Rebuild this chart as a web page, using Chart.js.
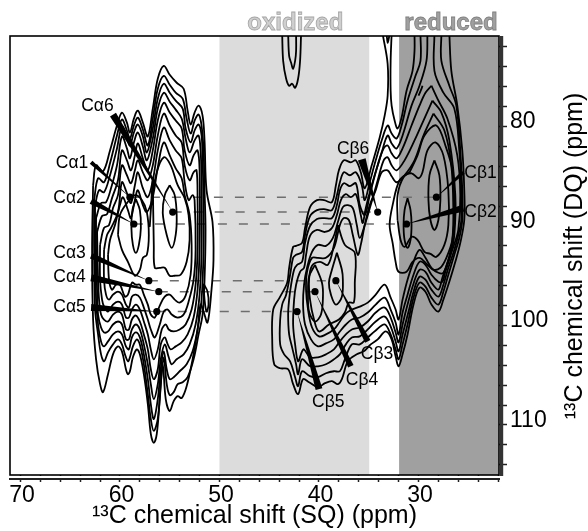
<!DOCTYPE html>
<html>
<head>
<meta charset="utf-8">
<script src="https://cdn.jsdelivr.net/npm/chart.js@4"></script>
<style>
 html,body{margin:0;padding:0;background:#fff;}
 canvas{display:block;}
</style>
</head>
<body>
<canvas id="nmr" width="588" height="531"></canvas>
<script>
// ---------------- AXES ----------------
const xRange = [71.05, 21.91];
const yRange = [70.9, 115.03];
const xTickValues = [70,68,66,64,62,60,58,56,54,52,50,48,46,44,42,40,38,36,34,32,30,28,26,24,22];
const yTickValues = [72,74,76,78,80,82,84,86,88,90,92,94,96,98,100,102,104,106,108,110,112,114];
const xTickLabels = [70,60,50,40,30];
const yTickLabels = [80,90,100,110];

// ---------------- SHADED BANDS ----------------
const oxidizedBand = [50, 34.95];
const reducedBand = [31.95, 21.91];

// ---------------- PEAKS (SQ Ca, SQ Cb, DQ) ----------------
const peakCaX = [59.0, 58.6, 57.1, 56.1, 56.3, 54.7];
const peakCbX = [28.2, 31.2, 38.3, 40.4, 42.2, 34.1];
const peakY = [87.1, 89.8, 95.5, 96.6, 98.6, 88.6];

const caNames = ["Cα1","Cα2","Cα3","Cα4","Cα5","Cα6"];
const caLabelX = [66.45, 66.7, 66.7, 66.7, 66.7, 63.9];
const caLabelY = [84.2, 87.7, 93.2, 95.6, 98.6, 78.4];
const caLeaderX = [62.9, 62.9, 62.9, 62.9, 62.9, 60.7];
const caLeaderY = [83.6, 87.5, 93.0, 95.2, 98.2, 78.8];

const cbNames = ["Cβ1","Cβ2","Cβ3","Cβ4","Cβ5","Cβ6"];
const cbLabelX = [25.4, 25.4, 35.8, 37.3, 40.7, 38.2];
const cbLabelY = [85.2, 89.1, 103.4, 106.0, 108.2, 82.8];
const cbLeaderX = [25.5, 25.5, 35.1, 36.8, 40.0, 35.7];
const cbLeaderY = [84.6, 88.2, 101.6, 104.1, 106.4, 83.3];

// ---------------- CA CONTOURS ----------------
const caContour1 = [[62.7,85.9],[62.4,83.9],[61.7,84.5],[61,82.4],[60.3,79.9],[59.8,78.6],[59.3,79.6],[59,80.6],[58.6,79.2],[58.2,78.4],[57.7,79.6],[57.2,81],[56.7,78.2],[56.2,75.2],[55.6,73.9],[55,74.8],[54.3,75.6],[53.6,76.2],[53.2,78.4],[52.9,79.8],[52.5,78.6],[52.1,77.9],[51.7,78.9],[51.5,81.4],[51.3,86.4],[50.7,89.6],[50.6,93.4],[50.8,96.4],[51.2,99.7],[51.6,98.6],[51.9,97.9],[52.2,100.4],[52.7,103.4],[53.3,106.1],[53.8,107.3],[54.2,107.1],[54.6,107.6],[55,108.6],[55.4,107.4],[55.7,103.9],[56,107.4],[56.3,110.9],[56.6,111.8],[56.9,110.9],[57.2,107.9],[57.6,104.9],[58,102.9],[58.3,102.4],[58.7,103.2],[59,104.6],[59.2,104.9],[59.4,104.4],[59.8,102.6],[60.2,102.1],[60.7,102.9],[61.2,104.9],[61.7,106.7],[62,105.9],[62.4,103.4],[62.7,99.4],[62.8,92.4],[62.7,85.9]];
const caContour2 = [[62.6,87.4],[62.2,85.2],[61.6,85.6],[61,83.7],[60.3,80.9],[59.8,79.3],[59.3,80.4],[59,81.2],[58.6,79.9],[58.2,79.1],[57.7,80.3],[57.2,81.9],[56.7,79.2],[56.2,76.2],[55.6,74.9],[55,75.8],[54.4,76.6],[53.7,77.2],[53.3,79.2],[52.9,80.7],[52.5,79.4],[52.1,78.8],[51.8,79.9],[51.6,82.4],[51.5,86.4],[51.4,90.4],[51.5,95.4],[51.7,98.9],[52.1,100.9],[52.6,103.4],[53.2,105.2],[53.7,105.7],[54.2,105.9],[54.6,106.7],[55,107],[55.3,105.9],[55.6,103.2],[55.9,105.9],[56.2,109.4],[56.6,110.6],[56.9,109.4],[57.2,106.9],[57.6,103.9],[58,101.9],[58.3,101.4],[58.7,102.1],[59,103.2],[59.2,103.6],[59.5,102.9],[59.8,101.9],[60.2,101.4],[60.7,101.9],[61.2,102.7],[61.6,103.6],[61.9,102.9],[62.2,100.9],[62.5,98.4],[62.6,92.4],[62.6,87.4]];
const caContour3 = [[62.5,87.9],[62.1,86.4],[61.6,86.6],[61,84.9],[60.3,82.2],[59.8,80],[59.3,81.1],[59,81.9],[58.6,80.6],[58.2,79.8],[57.7,81],[57.3,82.6],[56.7,80.2],[56.2,77.2],[55.6,75.7],[55,76.6],[54.4,77.4],[53.7,78.2],[53.4,80.2],[52.9,81.6],[52.5,80.4],[52.1,79.8],[51.8,80.9],[51.7,83.4],[51.6,87.4],[51.6,92.4],[51.8,97.4],[52.2,100.4],[52.7,102.6],[53.3,103.9],[54,104.6],[54.6,105.2],[55,105.4],[55.3,104.4],[55.6,102.6],[55.9,104.4],[56.2,107.4],[56.6,109.4],[56.9,107.9],[57.2,105.4],[57.6,102.9],[58,101.2],[58.4,100.7],[58.8,101.2],[59.1,102.4],[59.4,102.1],[59.8,100.9],[60.2,100.6],[60.7,100.9],[61.2,101.6],[61.6,102.1],[61.9,101.6],[62.2,99.9],[62.4,97.4],[62.5,92.4],[62.5,87.9]];
const caContour4 = [[62.4,89.2],[61.9,87.7],[61.4,87.6],[60.9,86.2],[60.3,83.9],[59.8,81],[59.3,82.2],[59,83.2],[58.6,81.6],[58.2,80.6],[57.7,82],[57.3,83.4],[56.7,81.2],[56.2,78.2],[55.6,76.6],[55,77.5],[54.4,78.3],[53.8,79.2],[53.4,81.2],[53,82.6],[52.5,81.4],[52.1,80.9],[51.9,82.4],[51.8,85.4],[51.8,92.4],[52,96.9],[52.4,99.9],[53,101.9],[53.6,102.9],[54.3,103.4],[54.8,103.9],[55.1,103.2],[55.5,101.9],[55.9,103.4],[56.2,105.9],[56.6,107.4],[56.9,105.9],[57.2,103.9],[57.6,101.9],[58,100.4],[58.4,99.9],[58.8,100.4],[59.1,101.4],[59.4,101.4],[59.8,99.9],[60.2,99.6],[60.7,99.9],[61.2,100.6],[61.6,100.7],[61.9,100.2],[62.2,98.9],[62.3,96.4],[62.4,92.4],[62.4,89.2]];
const caContour5 = [[62.3,90.6],[61.8,89],[61.3,88.8],[60.8,87.2],[60.2,85.4],[59.8,82.4],[59.3,83.4],[58.9,84.4],[58.5,82.9],[58.2,81.7],[57.7,83.2],[57.2,84.4],[56.7,82.4],[56.2,79.4],[55.6,77.6],[55,78.6],[54.4,79.4],[53.8,80.2],[53.5,82.4],[53,83.9],[52.6,82.9],[52.2,82.4],[52,84.4],[52,92.4],[52.2,96.4],[52.6,99.2],[53.2,100.9],[53.8,101.7],[54.4,102.1],[54.9,102.4],[55.2,101.9],[55.5,101.2],[55.9,101.9],[56.2,104.4],[56.6,105.4],[56.9,104.4],[57.2,102.4],[57.6,100.9],[58,99.6],[58.4,99],[58.8,99.4],[59.1,100.4],[59.4,100.4],[59.8,98.9],[60.2,98.6],[60.7,98.9],[61.2,99.6],[61.6,99.4],[61.9,98.9],[62.1,97.4],[62.2,95.4],[62.3,90.6]];
const caContour6 = [[62,91.9],[61.6,90.2],[61.1,89.9],[60.7,88.2],[60.2,86.9],[59.8,83.9],[59.3,84.9],[58.9,85.7],[58.5,84.4],[58.2,83.4],[57.7,84.6],[57.2,85.4],[56.7,83.9],[56.2,80.9],[55.6,78.7],[55,79.9],[54.4,80.9],[53.8,81.6],[53.5,83.9],[53,85.4],[52.6,84.6],[52.3,84.4],[52.2,87.4],[52.2,92.4],[52.4,95.9],[52.8,98.4],[53.4,99.9],[54,100.4],[54.6,100.6],[55.1,100.4],[55.4,99.9],[55.8,100.4],[56.2,102.4],[56.6,103.4],[56.9,102.4],[57.2,100.9],[57.6,99.6],[58,98.4],[58.4,97.9],[58.8,98.4],[59.1,99.2],[59.4,99.2],[59.8,97.9],[60.2,97.6],[60.7,97.9],[61.2,98.6],[61.6,98.1],[61.8,97.4],[62,95.4],[62,91.9]];
const caContour7 = [[61.6,92.4],[61.3,90.9],[60.9,90.2],[60.2,88.6],[59.8,85.6],[59.3,86.7],[58.9,87.7],[58.5,85.9],[58.2,84.6],[57.7,86.2],[57.2,87.1],[56.7,85.4],[56.2,82.4],[55.6,80.1],[55,81.4],[54.4,82.4],[53.8,83.2],[53.5,85.6],[53.1,87.4],[52.7,86.9],[52.5,87.4],[52.4,92.4],[52.6,95.4],[53.1,97.6],[53.6,98.9],[54.2,99.2],[54.8,98.9],[55.2,98.4],[55.6,98.6],[56,99.9],[56.5,101.2],[56.9,100.4],[57.2,99.4],[57.6,98.2],[58,97.2],[58.4,96.9],[58.8,97.1],[59.1,98.2],[59.4,97.9],[59.8,96.9],[60.2,96.6],[60.7,96.9],[61.1,97.4],[61.4,96.9],[61.6,95.4],[61.6,92.4]];
const caContour8 = [[61.2,92.9],[61,91.4],[60.5,89.9],[60,87.9],[59.7,87.1],[59.2,88.4],[58.9,89.2],[58.5,87.4],[58.2,86.4],[57.7,87.9],[57.3,88.6],[56.7,87.1],[56.2,84.1],[55.6,81.6],[55,82.9],[54.4,84.2],[53.8,85.2],[53.5,86.9],[53,88.9],[52.8,91.9],[52.9,94.9],[53.4,97],[54,97.7],[54.5,97.4],[55,96.9],[55.5,97.1],[56,98],[56.5,99.2],[56.9,98.9],[57.2,97.9],[57.6,96.9],[58,95.9],[58.4,95.9],[58.8,95.7],[59.2,96.9],[59.5,97.1],[60,95.9],[60.4,95.9],[60.8,96.4],[61.1,95.4],[61.2,92.9]];
const caRingA = [[56.7,85.1],[57,90],[56.8,87.4],[56.3,84.6],[55.6,83.1],[54.9,83.9],[54.2,85.9],[53.5,87.2],[53.1,88.9],[53,91.4],[53.3,93.6],[53.9,94.9],[54.5,95],[55,95],[55.5,94.2],[56,94.2],[56.5,94.2],[56.6,92],[56.7,85.1]];
const caRingB = [[60.2,90.9],[60,88.9],[59.3,87.7],[58.5,86.9],[57.8,87.4],[57.3,88.6],[57.1,90.9],[57.3,92.9],[57.7,93.2],[58,94.4],[58.5,95],[59.2,93.6],[59.8,92.4],[60.2,90.9]];
const caEllipseA = [[55,85.9],[54.5,86.9],[54.3,88.9],[54.4,90.9],[54.8,92.2],[55.3,90.9],[55.7,88.7],[55.5,86.9],[55,85.9]];
const caEllipseB = [[58.4,87.3],[58,88.4],[57.9,90.2],[58.1,91.9],[58.4,92.7],[58.7,91.9],[58.85,90.2],[58.75,88.4],[58.4,87.3]];
const caSideLobe = [[51.6,95.8],[51.2,96.6],[51.1,97.9],[51.3,98.6],[51.5,97.4],[51.6,95.8]];

// ---------------- CB CONTOURS ----------------
const cbContour1 = [[33.6,70.7],[33.1,73.7],[33.1,76.9],[33.4,78.9],[33.9,81.1],[34.7,83.9],[35.4,86.2],[35.8,84.6],[36.3,83.4],[36.8,83.6],[37.5,83.4],[38,84.4],[38.3,85.9],[38.7,87.6],[39.5,87.4],[40.2,87.4],[40.9,88.1],[41.4,90.2],[41.7,91.7],[42.3,92],[42.6,92.1],[43,94.2],[43.2,95.7],[43.9,97.1],[44.6,98.4],[44.7,101.4],[44.5,103.9],[43.9,104.3],[43.1,104.4],[42.6,105.9],[42.1,106.9],[41.6,105.4],[41,105.7],[40.1,106.2],[39.4,105.8],[38.7,105.6],[38.1,105.9],[37.7,105.4],[37.1,103.6],[36.2,102.9],[35.5,102.6],[34.8,101.9],[34.1,101.4],[33.3,100.6],[32.7,101.4],[32.3,103.1],[32,104.1],[31.6,102.9],[31.1,100.9],[30.5,97.9],[29.9,96.2],[29.3,96.6],[28.7,97.9],[28,98.6],[27.5,97.4],[26.9,95.6],[26.3,93.6],[25.8,91.7],[25.4,89.4],[25.4,86.4],[25.6,82.4],[26.1,77.9],[26.7,74.4],[26.9,70.7]];
const cbContour1b = [[32.7,70.7],[32.8,73.4],[32.8,76.4],[32.7,77.9],[32.4,79.4],[32.1,80.2],[31.7,79.1],[31.2,76.4],[30.6,74.4],[30.4,72.4],[30.4,70.7]];
const cbContour2 = [[29.8,70.7],[29.8,73.4],[30.3,74.9],[31.1,77.4],[31.7,79.9],[32.2,81.2],[32.7,80.7],[33.1,79.9],[33.7,81.4],[34.3,83.4],[34.9,85.6],[35.4,87.4],[35.7,85.9],[36.3,84.6],[36.9,84.9],[37.5,84.6],[37.9,85.6],[38.2,86.9],[38.7,88.4],[39.5,88.3],[40.2,88.4],[40.9,89],[41.4,90.9],[41.7,92.6],[42.3,92.9],[42.6,93.2],[42.9,94.9],[43.3,96.9],[43.7,97.9],[43.9,99.4],[43.9,101.9],[43.5,102.9],[42.9,103.6],[42.4,105.2],[42.1,106.1],[41.7,104.6],[40.9,105.1],[40.1,105.2],[39.3,104.8],[38.5,104.6],[37.9,104.6],[37.4,103.4],[36.7,101.9],[35.9,101.9],[35.1,101.2],[34.3,100.5],[33.4,99.9],[32.8,100.9],[32.3,102.4],[32,103.4],[31.6,101.9],[31.1,99.9],[30.5,97.2],[29.9,95.7],[29.3,96.1],[28.7,97.2],[28,97.9],[27.5,96.6],[27,94.9],[26.4,92.9],[25.9,91.2],[25.6,89.4],[25.6,86.4],[25.8,82.4],[26.2,77.9],[26.9,75.9],[27.7,73.4],[27.7,70.7]];
const cbContour2b = [[29.4,70.7],[29.4,74.4],[29.6,75.9],[30,76.9]];
const cbContour3 = [[29.1,70.7],[29.2,73.4],[29.9,75.9],[30.7,77.9],[31.6,80.9],[32.2,82.2],[32.7,81.7],[33.1,80.9],[33.7,82.6],[34.3,84.6],[34.9,86.9],[35.4,88.9],[35.9,87.9],[36.3,85.7],[36.9,86],[37.5,85.7],[37.9,86.4],[38.2,87.9],[38.7,89.2],[39.5,89.2],[40.2,89.3],[40.9,90],[41.4,91.7],[41.7,93.6],[42.2,93.9],[42.5,94.4],[42.8,95.9],[43,97.4],[43.1,98.9],[43,100.9],[42.7,102.2],[42.3,103.9],[42.1,104.9],[41.7,103.4],[40.9,104.1],[40.1,104.1],[39.3,103.9],[38.5,103.4],[37.9,102.9],[37.3,101.9],[36.7,101.2],[35.9,101.1],[35.1,100.4],[34.3,99.6],[33.4,99.1],[32.8,100.1],[32.3,101.6],[32,102.6],[31.6,100.9],[31,98.6],[30.5,96.6],[29.9,95.1],[29.3,95.4],[28.7,96.4],[28,97.1],[27.5,95.9],[27,94.2],[26.4,92.4],[26,90.9],[25.7,89.4],[25.7,86.4],[25.9,82.4],[26.4,78.2],[27.5,76.6],[28.4,74.4],[28.4,70.7]];
const cbContour4 = [[28.7,75.9],[28.1,77.2],[27.1,79.2],[26.1,82.9],[25.8,86.9],[26,90.4],[26.5,92.1],[27.1,93.7],[27.6,95.2],[28,96.4],[28.7,95.7],[29.3,94.6],[29.9,94.4],[30.5,95.8],[31.1,97.9],[31.6,99.9],[32,101.7],[32.3,100.7],[32.8,99.2],[33.4,98.2],[34.3,98.7],[35.1,99.6],[35.9,100.2],[36.7,100.4],[37.3,100.9],[37.9,101.6],[38.5,102.4],[39.3,102.9],[40.1,103.2],[40.9,103.2],[41.5,102.4],[41.7,102.6],[42.1,103.6],[42.4,101.9],[42.6,99.9],[42.5,97.4],[42.3,95.9],[41.9,94.6],[41.5,94.2],[41.3,92.9],[40.9,91],[40.2,90.4],[39.4,90.6],[38.7,90.2],[38.2,88.9],[37.8,87.4],[37.3,86.8],[36.8,87.1],[36.3,86.8],[35.8,88.9],[35.6,89.7],[35.3,88.2],[34.7,85.9],[34.1,83.9],[33.5,82.2],[33.1,81.9],[32.7,82.7],[32.2,83.2],[31.6,82.2],[30.7,79.9],[29.9,77.9],[29.3,76.6],[28.7,75.9]];
const cbContour5 = [[28.6,77.4],[27.7,78.6],[26.9,81.4],[26.3,86.9],[26.4,90.9],[26.8,93],[27.3,94.6],[27.6,95.6],[28,95.6],[28.7,94.9],[29.3,93.9],[29.9,93.6],[30.5,94.9],[31.1,96.9],[31.6,98.7],[32,100.9],[32.3,99.7],[32.8,98.4],[33.4,97.2],[34.3,97.9],[35.1,98.7],[35.9,99.2],[36.7,99.4],[37.3,99.9],[37.9,100.6],[38.5,101.4],[39.3,101.8],[40.1,102.1],[40.8,101.4],[41.4,99.9],[41.6,97.9],[41.5,95.9],[41.2,94.2],[40.7,92.6],[40.1,91.9],[39.3,92],[38.6,91.2],[38.1,89.6],[37.6,88.1],[37.1,87.9],[36.6,88.2],[36.2,89.9],[35.9,91.2],[35.4,89.9],[34.8,87.9],[34.1,85.4],[33.5,83.4],[33.1,83.1],[32.7,83.9],[32.2,84.4],[31.4,83.4],[30.4,81.4],[29.5,79.4],[28.6,77.4]];
const cbContour6 = [[28.5,78.7],[27.4,80.4],[26.7,83.9],[26.5,88.4],[26.6,91.4],[27,93.4],[27.5,94.7],[28,94.7],[28.7,94.2],[29.3,93.2],[29.9,92.4],[30.5,93.6],[31.1,95.4],[31.6,97.4],[32,99.4],[32.3,98.4],[32.8,97.2],[33.4,95.9],[34.3,96.9],[35.1,97.7],[35.9,98.1],[36.7,98.4],[37.4,98.9],[37.9,99.6],[38.5,100.4],[39.3,100.9],[40,101.1],[40.7,100.2],[41.1,98.4],[41.3,96.4],[41.2,94.6],[40.7,93.2],[40.1,93.2],[39.3,93.2],[38.5,92.2],[37.9,89.9],[37.5,89.2],[37,89.4],[36.6,90.9],[36.1,92.9],[35.8,91.9],[35.4,89.9],[34.9,87.9],[34.3,86.4],[33.7,84.6],[33.1,84.4],[32.7,85],[32.2,85.6],[31.4,84.9],[30.4,83.4],[29.5,80.9],[28.5,78.7]];
const cbRingLow = [[38.1,89.9],[37.4,91.9],[36.4,92.7],[36.4,95.7],[36.5,97.7],[37,97.7],[37.4,98.7],[38,99.4],[39,99.9],[40,100.6],[40.5,99.4],[40.9,97.4],[41,95.4],[40.7,94],[39.9,93.6],[39.1,93.9],[38.5,91.9],[38.1,89.9]];
const cbContourW = [[30.9,84.6],[31.9,85.4],[32.6,87.9],[32.9,89.9],[32.6,91.7],[32.3,93.6],[32,94.6],[31.2,94.6],[30.6,93.6],[29.9,93.2],[29.1,93.9],[28.5,94.4],[27.8,94.2],[27.2,93.2],[26.6,91.4],[26.4,88.4],[26.6,84.4],[27.2,82.2],[28.2,79.9],[29.4,80.9],[30.1,82.9],[30.9,84.6]];
const cbContourX = [[32.1,89.4],[32.1,86.9],[31.5,85.1],[30.7,84.7],[30,85.2],[29.6,84.6],[29.1,82.4],[28.3,81.6],[27.5,82.9],[27,86.4],[27,89.9],[27.4,91.9],[28.2,93.1],[28.8,92.8],[29.4,92.6],[30.1,91.4],[30.7,91.1],[31.4,92.1],[31.8,91.4],[32.1,89.4]];
const cbEllipse1 = [[28.4,83.4],[27.9,84.9],[27.8,87.4],[28,89.4],[28.4,90.4],[28.8,89.4],[29,87.4],[28.9,84.9],[28.4,83.4]];
const cbEllipse2 = [[31.1,87.2],[30.8,88.4],[30.7,89.9],[30.8,91.4],[31.1,92.2],[31.4,91.4],[31.5,89.9],[31.4,88.4],[31.1,87.2]];
const cbEllipse3 = [[38.2,92.7],[37.7,94.4],[37.6,95.4],[37.7,97.1],[38.3,97.9],[38.8,96.9],[39,95.7],[38.7,94.4],[38.2,92.7]];
const cbEllipse4 = [[40.4,93.9],[39.7,95.7],[39.6,97.1],[39.8,98.9],[40.4,99.6],[41,98.6],[41.1,96.7],[41,95.1],[40.4,93.9]];
const topOuter = [[43.7,70.7],[43.6,73.4],[43.3,75.2],[43,75.9],[42.7,75.7],[42.4,76.1],[42.1,75.2],[41.9,73.4],[41.8,70.7]];
const topInner = [[43.1,70.7],[43,72.9],[42.8,73.6],[42.6,74.2],[42.4,73.4],[42.3,72.4],[42.3,70.7]];
const tubeTip = [[33.2,70.7],[33.1,71.6],[32.9,70.7]];

const contourLists = [caContour1,caContour2,caContour3,caContour4,caContour5,caContour6,caContour7,caContour8,
    caRingA,caRingB,caEllipseA,caEllipseB,caSideLobe,
    cbContour1,cbContour1b,cbContour2,cbContour2b,cbContour3,cbContour4,cbContour5,cbContour6,cbRingLow,
    cbContourW,cbContourX,cbEllipse1,cbEllipse2,cbEllipse3,cbEllipse4,topOuter,topInner,tubeTip];

// ---------------- DATASETS ----------------
const pairsToPoints = list => list.map(p => ({x:p[0], y:p[1]}));

const datasets = [];

datasets.push({
    label:"Ca peaks",
    data:peakCaX.map((x,i)=>({x:x, y:peakY[i]})),
    showLine:false, pointRadius:3.6, pointBackgroundColor:"#000", pointBorderWidth:0
});
datasets.push({
    label:"Cb peaks",
    data:peakCbX.map((x,i)=>({x:x, y:peakY[i]})),
    showLine:false, pointRadius:3.6, pointBackgroundColor:"#000", pointBorderWidth:0
});

contourLists.forEach((list,i)=>{
    datasets.push({
        label:"contour "+i,
        data:pairsToPoints(list),
        showLine:true, tension:0.35, borderColor:"#000", borderWidth:1.8,
        pointRadius:0, fill:false
    });
});

peakY.forEach((y,i)=>{
    datasets.push({
        label:"link "+i,
        data:[{x:peakCaX[i], y:y},{x:peakCbX[i], y:y}],
        showLine:true, borderColor:"#6e6e6e", borderWidth:1.5, borderDash:[9,12],
        pointRadius:0, fill:false
    });
});

// ---------------- PLUGINS ----------------
const caLeaderWidth = [4, 6, 6, 7, 7, 7];
const cbLeaderWidth = [4, 7, 6, 6, 7, 8];

const bandsPlugin = {
    id:"bands",
    beforeDatasetsDraw(chart){
        const {ctx, chartArea:a, scales:{x}} = chart;
        ctx.save();
        ctx.fillStyle = "#dcdcdc";
        ctx.fillRect(x.getPixelForValue(oxidizedBand[0]), a.top, x.getPixelForValue(oxidizedBand[1])-x.getPixelForValue(oxidizedBand[0]), a.height);
        ctx.fillStyle = "#a0a0a0";
        ctx.fillRect(x.getPixelForValue(reducedBand[0]), a.top, x.getPixelForValue(reducedBand[1])-x.getPixelForValue(reducedBand[0]), a.height);
        ctx.restore();
    }
};

function drawLeader(chart, x0, y0, x1, y1, width){
    const {ctx, scales:{x, y}} = chart;
    const ax = x.getPixelForValue(x0), ay = y.getPixelForValue(y0);
    const bx = x.getPixelForValue(x1), by = y.getPixelForValue(y1);
    const len = Math.hypot(bx-ax, by-ay);
    const nx = -(by-ay)/len*width/2, ny = (bx-ax)/len*width/2;
    ctx.beginPath();
    ctx.moveTo(ax+nx, ay+ny);
    ctx.lineTo(ax-nx, ay-ny);
    ctx.lineTo(bx, by);
    ctx.closePath();
    ctx.fill();
}

const labelsPlugin = {
    id:"peakLabels",
    afterDatasetsDraw(chart){
        const {ctx, scales:{x, y}} = chart;
        ctx.save();
        ctx.fillStyle = "#000";
        peakCaX.forEach((px,i)=> drawLeader(chart, caLeaderX[i], caLeaderY[i], px, peakY[i], caLeaderWidth[i]));
        peakCbX.forEach((px,i)=> drawLeader(chart, cbLeaderX[i], cbLeaderY[i], px, peakY[i], cbLeaderWidth[i]));
        ctx.font = "17.5px 'Liberation Sans'";
        ctx.textAlign = "left";
        ctx.textBaseline = "alphabetic";
        caNames.forEach((t,i)=> ctx.fillText(t, x.getPixelForValue(caLabelX[i]), y.getPixelForValue(caLabelY[i])));
        cbNames.forEach((t,i)=> ctx.fillText(t, x.getPixelForValue(cbLabelX[i]), y.getPixelForValue(cbLabelY[i])));
        ctx.restore();
    }
};

const framePlugin = {
    id:"frame",
    afterDraw(chart){
        const {ctx, chartArea:a, scales:{x}} = chart;
        ctx.save();
        // white gap between the box and the outer axes
        ctx.fillStyle = "#fff";
        ctx.fillRect(a.left-1, a.bottom+1, a.width+2, 2);
        // box
        ctx.strokeStyle = "#000";
        ctx.lineWidth = 1.6;
        ctx.strokeRect(a.left, a.top, a.width, a.height);
        // outer axes
        ctx.strokeStyle = "#222";
        ctx.lineWidth = 2.2;
        ctx.beginPath();
        ctx.moveTo(a.left-1, a.bottom+4);
        ctx.lineTo(a.right+1, a.bottom+4);
        ctx.stroke();
        ctx.strokeStyle = "#333";
        ctx.lineWidth = 3.4;
        ctx.beginPath();
        ctx.moveTo(a.right+2.5, a.top);
        ctx.lineTo(a.right+2.5, a.bottom+1);
        ctx.stroke();
        // band titles
        ctx.font = "bold 24px 'Liberation Sans'";
        ctx.textAlign = "center";
        ctx.textBaseline = "alphabetic";
        ctx.lineWidth = 0.8;
        ctx.fillStyle = "#cfcfcf";
        ctx.strokeStyle = "#a6a6a6";
        const oxCx = (x.getPixelForValue(oxidizedBand[0])+x.getPixelForValue(oxidizedBand[1]))/2 + 1;
        ctx.fillText("oxidized", oxCx, a.top-6);
        ctx.strokeText("oxidized", oxCx, a.top-6);
        ctx.fillStyle = "#a0a0a0";
        ctx.strokeStyle = "#808080";
        const redCx = (x.getPixelForValue(reducedBand[0])+x.getPixelForValue(reducedBand[1]))/2 + 2;
        ctx.fillText("reduced", redCx, a.top-6);
        ctx.strokeText("reduced", redCx, a.top-6);
        // y axis title
        ctx.fillStyle = "#000";
        ctx.font = "25px 'Liberation Sans'";
        ctx.translate(a.right+76, 256);
        ctx.rotate(-Math.PI/2);
        ctx.textBaseline = "middle";
        ctx.fillText("¹³C chemical shift (DQ) (ppm)", 0, 0);
        ctx.restore();
    }
};

// ---------------- CHART ----------------
new Chart(document.getElementById("nmr"),{
    type:"scatter",
    data:{datasets:datasets},
    plugins:[bandsPlugin, labelsPlugin, framePlugin],
    options:{
        responsive:false,
        animation:false,
        layout:{padding:{left:10, top:36, right:0, bottom:0}},
        plugins:{legend:{display:false}, tooltip:{enabled:false}},
        scales:{
            x:{
                type:"linear", reverse:true, position:"bottom",
                min:xRange[0], max:xRange[1],
                afterFit(s){ s.height = 56; },
                afterBuildTicks(s){ s.ticks = xTickValues.map(v=>({value:v})); },
                grid:{drawOnChartArea:false, drawTicks:true, tickLength:7, tickColor:"#222", tickWidth:1.5},
                border:{display:false},
                ticks:{
                    autoSkip:false, maxRotation:0, minRotation:0, padding:0, labelOffset:1.5,
                    color:"#000", font:{family:"'Liberation Sans'", size:23},
                    callback:v => xTickLabels.includes(v) ? String(v) : ""
                },
                title:{
                    display:true, text:"¹³C chemical shift (SQ) (ppm)", color:"#000",
                    font:{family:"'Liberation Sans'", size:25}, padding:{top:0, bottom:0}
                }
            },
            y:{
                type:"linear", reverse:true, position:"right",
                min:yRange[0], max:yRange[1],
                afterFit(s){ s.width = 89; },
                afterBuildTicks(s){ s.ticks = yTickValues.map(v=>({value:v})); },
                grid:{drawOnChartArea:false, drawTicks:true, tickLength:8, tickColor:"#222", tickWidth:1.5},
                border:{display:false},
                ticks:{
                    autoSkip:false, padding:3, labelOffset:-4.5,
                    color:"#000", font:{family:"'Liberation Sans'", size:23},
                    callback:v => yTickLabels.includes(v) ? String(v) : ""
                }
            }
        }
    }
});
</script>
</body>
</html>
